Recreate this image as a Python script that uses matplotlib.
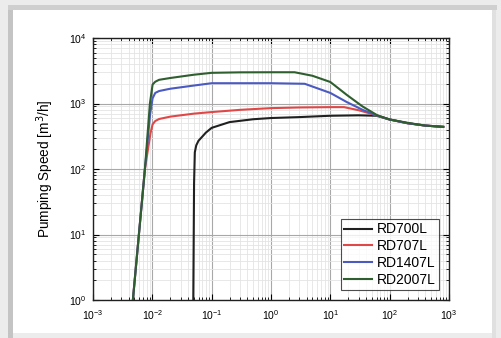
import matplotlib
matplotlib.use("Agg")
import matplotlib.pyplot as plt
from matplotlib.patches import Rectangle
import numpy as np

plt.rcParams['font.family'] = ['Liberation Sans', 'DejaVu Sans']

# Data (pressure, pumping speed in m^3/h)
labels = ["RD700L", "RD707L", "RD1407L", "RD2007L"]
colors = ["#202020", "#e04848", "#4a5ac0", "#2f5e2f"]

x_700 = [0.049, 0.0505, 0.052, 0.055, 0.06, 0.069, 0.08, 0.1, 0.2, 0.5, 1, 3, 10, 30, 60, 100, 200, 400, 800]
y_700 = [1, 60, 180, 230, 270, 310, 360, 425, 520, 575, 600, 620, 650, 660, 650, 570, 500, 460, 440]

x_707 = [0.0047, 0.0075, 0.0093, 0.0101, 0.0112, 0.013, 0.02, 0.05, 0.1, 0.3, 1, 3, 10, 17, 30, 60, 100, 200, 400, 800]
y_707 = [1, 100, 350, 480, 540, 580, 630, 700, 740, 800, 850, 870, 880, 880, 790, 660, 570, 500, 460, 440]

x_1407 = [0.0047, 0.0075, 0.0092, 0.0101, 0.0112, 0.013, 0.02, 0.05, 0.1, 0.3, 1, 3.7, 10, 19, 35, 60, 100, 200, 400, 800]
y_1407 = [1, 100, 700, 1200, 1450, 1550, 1680, 1880, 2040, 2040, 2040, 2000, 1450, 1050, 800, 660, 570, 500, 460, 440]

x_2007 = [0.0047, 0.0075, 0.0091, 0.0101, 0.0112, 0.013, 0.02, 0.05, 0.1, 0.3, 1, 2.5, 5, 10, 19, 35, 62, 100, 220, 400, 800]
y_2007 = [1, 100, 1000, 1950, 2150, 2300, 2450, 2750, 2940, 2990, 3000, 3000, 2650, 2130, 1350, 900, 660, 570, 500, 460, 440]

series_x = [x_700, x_707, x_1407, x_2007]
series_y = [y_700, y_707, y_1407, y_2007]

fig = plt.figure(figsize=(5.01, 3.38), dpi=100)
fig.patch.set_facecolor("#ececec")

# white panel with gray frame
frame_rects = [
    ((13/501, 1-333/338), (492-13)/501, (333-10)/338, "white"),
    ((8/501, 0), 5/501, 1-5/338, "#c4c4c4"),
    ((8/501, 1-10/338), (497-8)/501, 5/338, "#cfcfcf"),
    ((492/501, 0), 4/501, 1-10/338, "#e0e0e0"),
]
for xy, w, h, fc in frame_rects:
    r = Rectangle(xy, w, h, transform=fig.transFigure, facecolor=fc,
                  edgecolor="none", zorder=-10)
    fig.add_artist(r)

ax = fig.add_axes([93/501, 1-300/338, (449-93)/501, (300-38)/338])
ax.set_zorder(5)
ax.set_xscale("log")
ax.set_yscale("log")
ax.set_xlim(1e-3, 1e3)
ax.set_ylim(1, 1e4)

for xs, ys, c, lab in zip(series_x, series_y, colors, labels):
    ax.plot(xs, ys, color=c, lw=1.5, label=lab, zorder=3)

ax.grid(True, which="major", color="#a8a8a8", lw=0.8)
ax.grid(True, which="minor", color="#e4e4e4", lw=0.6)
ax.set_axisbelow(True)
ax.set_xticks([1e-3, 1e-2, 1e-1, 1e0, 1e1, 1e2, 1e3])
ax.set_yticks([1e0, 1e1, 1e2, 1e3, 1e4])
ax.tick_params(which="both", direction="in", top=True, right=True, labelsize=7.5)
ax.tick_params(axis="x", which="major", pad=6)
ax.tick_params(axis="y", which="major", pad=5)
ax.tick_params(which="major", length=4)
ax.tick_params(which="minor", length=2)
for s in ax.spines.values():
    s.set_linewidth(1.0)
    s.set_color("#202020")

ax.set_ylabel("Pumping Speed [m$^3$/h]", fontsize=9.8, labelpad=9)

leg = ax.legend(loc="lower right", fontsize=10, frameon=True, fancybox=False,
                edgecolor="#202020", handlelength=2.0, borderaxespad=0.7,
                labelspacing=0.2, handletextpad=0.35, borderpad=0.25,
                bbox_to_anchor=(1.0, 0.0))
leg.get_frame().set_linewidth(0.8)

fig.savefig("out.png", dpi=100, facecolor=fig.get_facecolor())
